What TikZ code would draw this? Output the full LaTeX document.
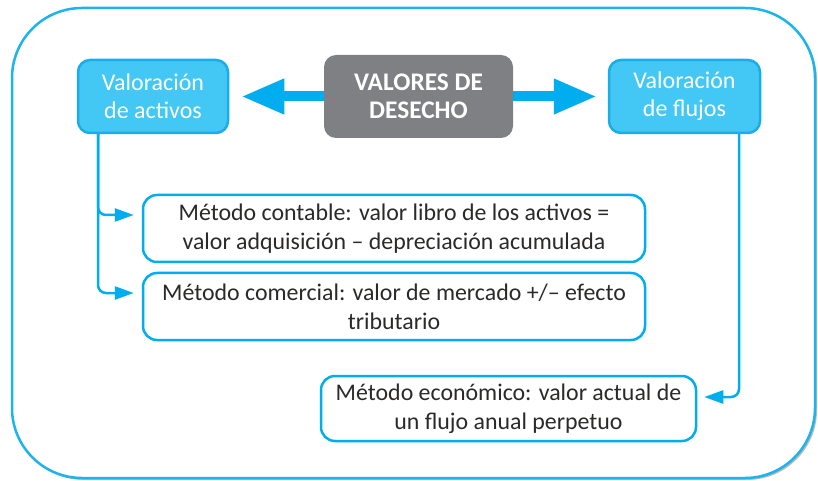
\documentclass[tikz,border=0pt]{standalone}
\usepackage{fontspec}
\setmainfont{Carlito}
\usetikzlibrary{arrows.meta,shadows,calc}
\def\px{0.75pt}
\definecolor{frameblue}{HTML}{1DB4EC}
\definecolor{nodefill}{HTML}{43C8F5}
\definecolor{nodeline}{HTML}{1AAEE8}
\definecolor{arrowblue}{HTML}{00AEEF}
\definecolor{graybox}{HTML}{7F8083}
\definecolor{txt}{HTML}{2B2A29}
\tikzset{
  topbox/.style={draw=nodeline, line width=2.5*\px, fill=nodefill, rounded corners=12*\px,
    text=white, align=center, font=\fontsize{18}{21}\selectfont, inner sep=0pt},
  centerbox/.style={fill=graybox, rounded corners=12*\px, text=white, align=center,
    font=\fontsize{19}{21}\selectfont\bfseries, inner sep=0pt},
  methodbox/.style={draw=arrowblue, line width=2.5*\px, fill=white, rounded corners=14*\px,
    text=txt, align=center, font=\fontsize{17.9}{22}\selectfont, inner sep=0pt},
  bigarrow/.style={draw=arrowblue, line width=10*\px, line cap=butt,
    -{Triangle[length=43*\px, width=33*\px]}},
  smallarrow/.style={draw=arrowblue, line width=2.5*\px, rounded corners=8*\px,
    -{Triangle[length=19*\px, width=13*\px]}},
}
\begin{document}
\begin{tikzpicture}[x=0.75pt, y=-0.75pt]
\useasboundingbox (0,0) rectangle (818,481);
% outer frame
\draw[frameblue, line width=2.5*\px, rounded corners=70*\px, fill=white,
  drop shadow={shadow xshift=1.5pt, shadow yshift=-1.5pt, opacity=0.45, fill=black!60}]
  (12,8) rectangle (815,478);
% top nodes
\node[topbox, minimum width=150*\px, minimum height=73*\px] (act) at (153,96.5) {Valoración\\de activos};
\node[centerbox, minimum width=189*\px, minimum height=83*\px] (val) at (418.5,96.5) {VALORES DE\\DESECHO};
\node[topbox, minimum width=151*\px, minimum height=73*\px] (flu) at (684.5,96.5) {Valoración\\de flujos};
% method boxes
\node[methodbox, minimum width=502*\px, minimum height=67*\px] (m1) at (394,228.5)
  {Método contable: valor libro de los activos =\\valor adquisición – depreciación acumulada};
\node[methodbox, minimum width=502*\px, minimum height=67*\px] (m2) at (394,306.5)
  {Método comercial: valor de mercado +/– efecto\\tributario};
\node[methodbox, minimum width=375*\px, minimum height=65*\px] (m3) at (508.5,408.5)
  {Método económico: valor actual de\\un flujo anual perpetuo};
% big arrows
\draw[bigarrow, shorten >=12*\px] (val.west) -- (act.east);
\draw[bigarrow, shorten >=11*\px] (val.east) -- (flu.east -| flu.west);
% small connectors
\coordinate (ls) at ([xshift=-55*\px]act.south);
\draw[smallarrow, shorten >=8*\px] (ls) |- ([yshift=13.5*\px]m1.west);
\draw[smallarrow, shorten >=8*\px] (ls) |- ([yshift=13.5*\px]m2.west);
\coordinate (rs) at ([xshift=54.5*\px]flu.south);
\draw[smallarrow, shorten >=7*\px] (rs) |- ([yshift=11.5*\px]m3.east);
\end{tikzpicture}
\end{document}
